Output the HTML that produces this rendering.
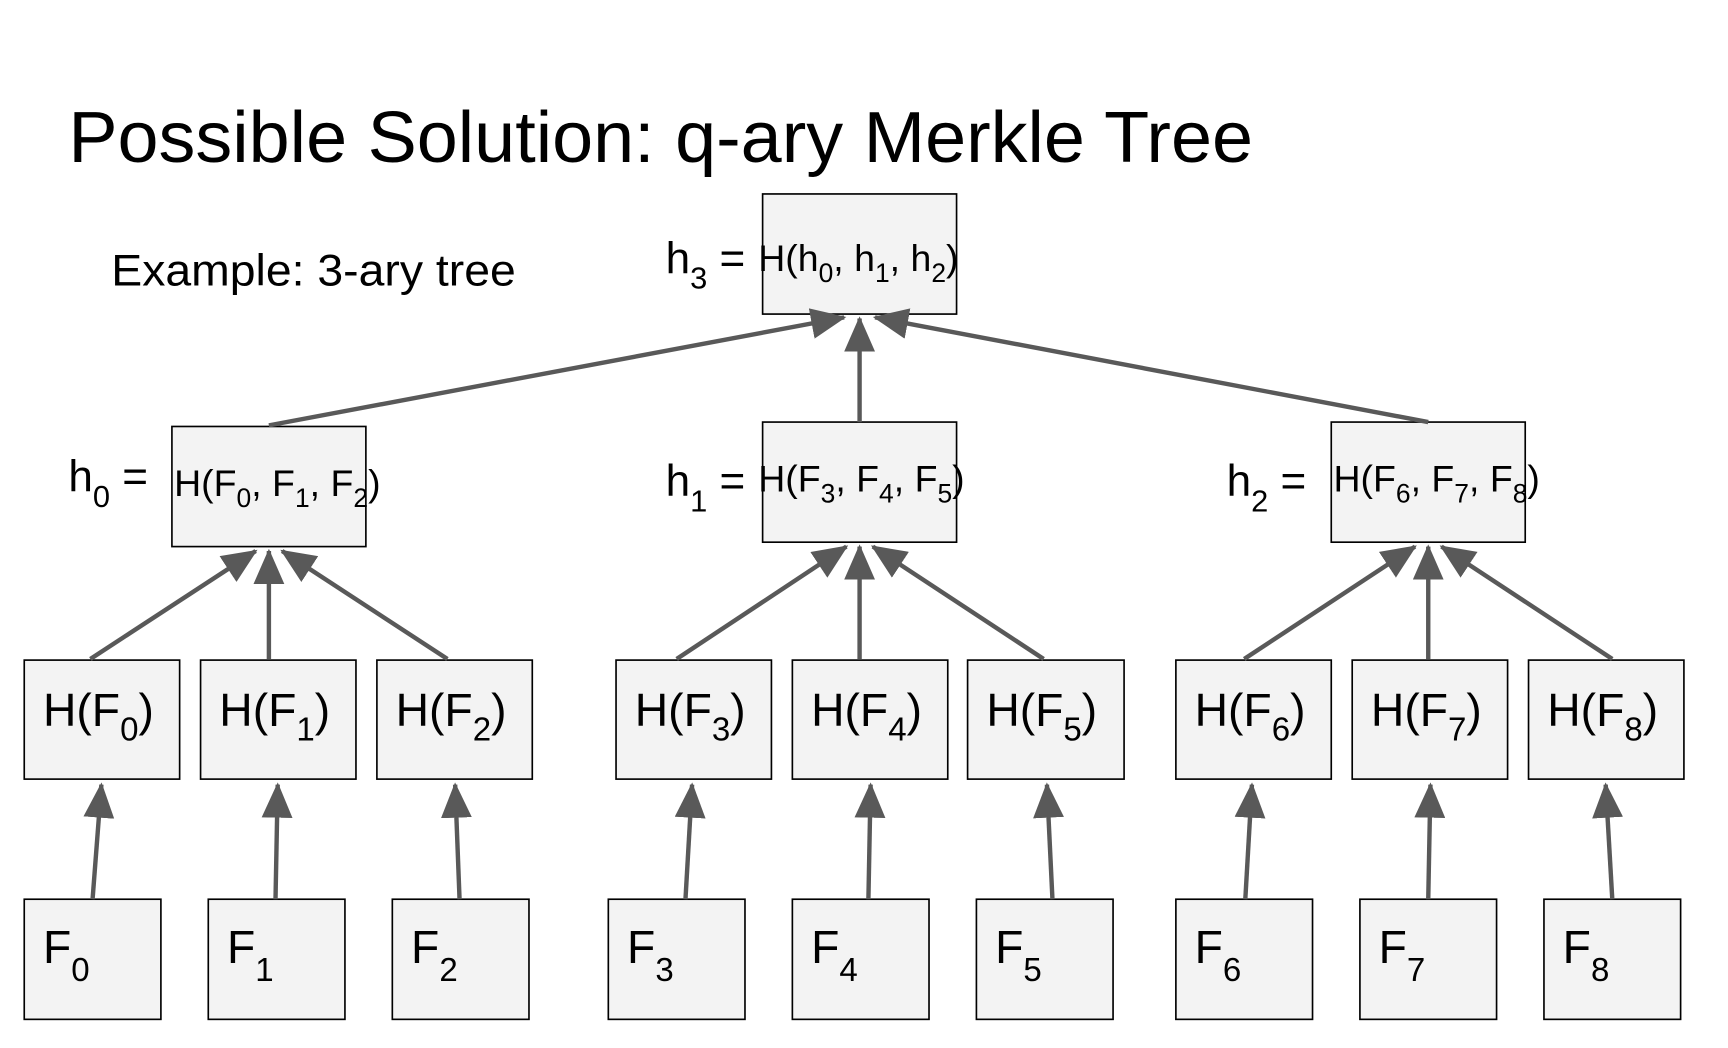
<!DOCTYPE html>
<html><head><meta charset="utf-8"><style>
html,body{margin:0;padding:0;background:#fff;width:1728px;height:1048px;overflow:hidden}
svg{display:block}
text{font-family:"Liberation Sans",sans-serif;fill:#000}
</style></head><body>
<svg width="1728" height="1048" viewBox="0 0 1568 951" preserveAspectRatio="none" xmlns="http://www.w3.org/2000/svg">
<defs>
<marker id="a" markerWidth="8" markerHeight="7" refX="7.5" refY="3.5" orient="auto" markerUnits="strokeWidth">
<path d="M0,0 L8,3.5 L0,7 z" fill="#595959"/>
</marker>
</defs>
<text x="62" y="147" font-size="66" textLength="1075" lengthAdjust="spacingAndGlyphs">Possible Solution: q-ary Merkle Tree</text>
<text x="101" y="259" font-size="40" textLength="367" lengthAdjust="spacingAndGlyphs">Example: 3-ary tree</text>

<g fill="#f3f3f3" stroke="#000" stroke-width="1.5">
<rect x="692" y="176" width="176" height="109"/>
<rect x="156" y="387" width="176" height="109"/>
<rect x="692" y="383" width="176" height="109"/>
<rect x="1208" y="383" width="176" height="109"/>
<rect x="22" y="599" width="141" height="108"/>
<rect x="182" y="599" width="141" height="108"/>
<rect x="342" y="599" width="141" height="108"/>
<rect x="559" y="599" width="141" height="108"/>
<rect x="719" y="599" width="141" height="108"/>
<rect x="878" y="599" width="142" height="108"/>
<rect x="1067" y="599" width="141" height="108"/>
<rect x="1227" y="599" width="141" height="108"/>
<rect x="1387" y="599" width="141" height="108"/>
<rect x="22" y="816" width="124" height="109"/>
<rect x="189" y="816" width="124" height="109"/>
<rect x="356" y="816" width="124" height="109"/>
<rect x="552" y="816" width="124" height="109"/>
<rect x="719" y="816" width="124" height="109"/>
<rect x="886" y="816" width="124" height="109"/>
<rect x="1067" y="816" width="124" height="109"/>
<rect x="1234" y="816" width="124" height="109"/>
<rect x="1401" y="816" width="124" height="109"/>
</g>

<g stroke="#595959" stroke-width="4" marker-end="url(#a)" fill="none">
<line x1="84" y1="816" x2="92" y2="712"/>
<line x1="250" y1="816" x2="252" y2="712"/>
<line x1="417" y1="816" x2="413" y2="712"/>
<line x1="622" y1="816" x2="628" y2="712"/>
<line x1="788" y1="816" x2="790" y2="712"/>
<line x1="955" y1="816" x2="950" y2="712"/>
<line x1="1130" y1="816" x2="1136" y2="712"/>
<line x1="1296" y1="816" x2="1298" y2="712"/>
<line x1="1463" y1="816" x2="1457" y2="712"/>
<line x1="82" y1="598" x2="232" y2="500"/>
<line x1="244" y1="598" x2="244" y2="500"/>
<line x1="406" y1="598" x2="256" y2="500"/>
<line x1="614" y1="598" x2="768" y2="496"/>
<line x1="780" y1="598" x2="780" y2="496"/>
<line x1="947" y1="598" x2="792" y2="496"/>
<line x1="1129" y1="598" x2="1284" y2="496"/>
<line x1="1296" y1="598" x2="1296" y2="496"/>
<line x1="1463" y1="598" x2="1308" y2="496"/>
<line x1="244" y1="386" x2="766" y2="288"/>
<line x1="780" y1="383" x2="780" y2="289"/>
<line x1="1296" y1="383" x2="794" y2="288"/>
</g>

<g font-size="40">
<text x="604" y="248">h<tspan font-size="28" dy="14">3</tspan><tspan dy="-14"> = </tspan></text>
<text x="62" y="446">h<tspan font-size="28" dy="14">0</tspan><tspan dy="-14"> = </tspan></text>
<text x="604" y="450">h<tspan font-size="28" dy="14">1</tspan><tspan dy="-14"> = </tspan></text>
<text x="1113" y="450">h<tspan font-size="28" dy="14">2</tspan><tspan dy="-14"> = </tspan></text>
</g>
<g font-size="34">
<text x="688" y="246">H(h<tspan font-size="24" dy="10">0</tspan><tspan dy="-10">, h</tspan><tspan font-size="24" dy="10">1</tspan><tspan dy="-10">, h</tspan><tspan font-size="24" dy="10">2</tspan><tspan dy="-10">)</tspan></text>
<text x="158" y="450">H(F<tspan font-size="24" dy="10">0</tspan><tspan dy="-10">, F</tspan><tspan font-size="24" dy="10">1</tspan><tspan dy="-10">, F</tspan><tspan font-size="24" dy="10">2</tspan><tspan dy="-10">)</tspan></text>
<text x="688" y="446">H(F<tspan font-size="24" dy="10">3</tspan><tspan dy="-10">, F</tspan><tspan font-size="24" dy="10">4</tspan><tspan dy="-10">, F</tspan><tspan font-size="24" dy="10">5</tspan><tspan dy="-10">)</tspan></text>
<text x="1210" y="446">H(F<tspan font-size="24" dy="10">6</tspan><tspan dy="-10">, F</tspan><tspan font-size="24" dy="10">7</tspan><tspan dy="-10">, F</tspan><tspan font-size="24" dy="10">8</tspan><tspan dy="-10">)</tspan></text>
</g>
<g font-size="42">
<text x="39" y="659">H(F<tspan font-size="30" dy="13">0</tspan><tspan dy="-13">)</tspan></text>
<text x="199" y="659">H(F<tspan font-size="30" dy="13">1</tspan><tspan dy="-13">)</tspan></text>
<text x="359" y="659">H(F<tspan font-size="30" dy="13">2</tspan><tspan dy="-13">)</tspan></text>
<text x="576" y="659">H(F<tspan font-size="30" dy="13">3</tspan><tspan dy="-13">)</tspan></text>
<text x="736" y="659">H(F<tspan font-size="30" dy="13">4</tspan><tspan dy="-13">)</tspan></text>
<text x="895" y="659">H(F<tspan font-size="30" dy="13">5</tspan><tspan dy="-13">)</tspan></text>
<text x="1084" y="659">H(F<tspan font-size="30" dy="13">6</tspan><tspan dy="-13">)</tspan></text>
<text x="1244" y="659">H(F<tspan font-size="30" dy="13">7</tspan><tspan dy="-13">)</tspan></text>
<text x="1404" y="659">H(F<tspan font-size="30" dy="13">8</tspan><tspan dy="-13">)</tspan></text>
</g>
<g font-size="42">
<text x="39" y="874">F<tspan font-size="30" dy="16">0</tspan></text>
<text x="206" y="874">F<tspan font-size="30" dy="16">1</tspan></text>
<text x="373" y="874">F<tspan font-size="30" dy="16">2</tspan></text>
<text x="569" y="874">F<tspan font-size="30" dy="16">3</tspan></text>
<text x="736" y="874">F<tspan font-size="30" dy="16">4</tspan></text>
<text x="903" y="874">F<tspan font-size="30" dy="16">5</tspan></text>
<text x="1084" y="874">F<tspan font-size="30" dy="16">6</tspan></text>
<text x="1251" y="874">F<tspan font-size="30" dy="16">7</tspan></text>
<text x="1418" y="874">F<tspan font-size="30" dy="16">8</tspan></text>
</g>
</svg>
</body></html>
